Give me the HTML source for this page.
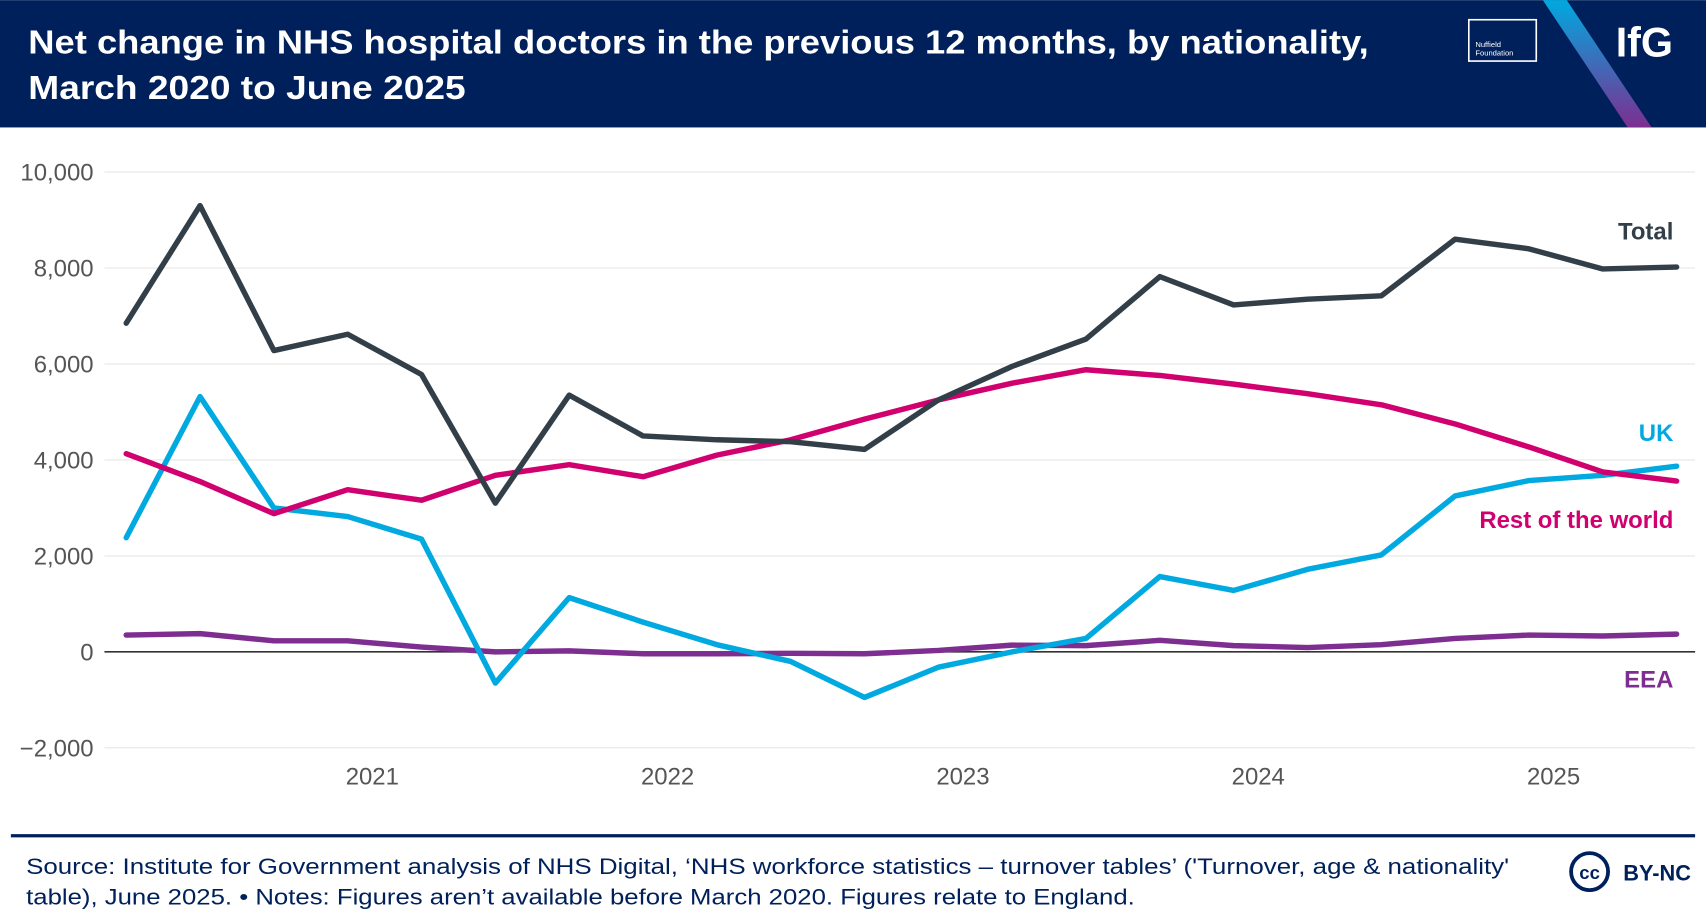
<!DOCTYPE html>
<html><head><meta charset="utf-8"><style>
html,body{margin:0;padding:0;background:#fff;}
svg{display:block;font-family:"Liberation Sans",sans-serif;}
</style></head><body>
<svg width="1706" height="924" viewBox="0 0 1568 849" xmlns="http://www.w3.org/2000/svg">
<rect x="0" y="0" width="1568" height="117" fill="#00205b"/>
<text x="26" y="49" fill="#fff" font-size="31" font-weight="bold" textLength="1232" lengthAdjust="spacingAndGlyphs">Net change in NHS hospital doctors in the previous 12 months, by nationality,</text>
<text x="26" y="91" fill="#fff" font-size="31" font-weight="bold" textLength="402" lengthAdjust="spacingAndGlyphs">March 2020 to June 2025</text>
<g>
<rect x="1350" y="18" width="62" height="38" fill="none" stroke="#fff" stroke-width="1.5"/>
<text x="1356" y="43" fill="#fff" font-size="7">Nuffield</text>
<text x="1356" y="51" fill="#fff" font-size="7">Foundation</text>
</g>
<defs><linearGradient id="g1" x1="0" y1="0" x2="0" y2="1"><stop offset="0" stop-color="#00a9e0"/><stop offset="1" stop-color="#7d2e90"/></linearGradient></defs>
<polygon points="1418,0 1440,0 1518,117 1496,117" fill="url(#g1)"/>
<text x="1485" y="52" fill="#fff" font-size="38" font-weight="bold">IfG</text>
<g id="plot"></g>
<line x1="10" y1="768" x2="1558" y2="768" stroke="#00205b" stroke-width="3"/>
<text x="24" y="803" fill="#00205b" font-size="20" textLength="1363" lengthAdjust="spacingAndGlyphs">Source: Institute for Government analysis of NHS Digital, ‘NHS workforce statistics – turnover tables’ ('Turnover, age &amp; nationality'</text>
<text x="24" y="831" fill="#00205b" font-size="20" textLength="1019" lengthAdjust="spacingAndGlyphs">table), June 2025. • Notes: Figures aren’t available before March 2020. Figures relate to England.</text>
<g>
<circle cx="1461" cy="801" r="17" fill="none" stroke="#00205b" stroke-width="3.5"/>
<text x="1461" y="808" text-anchor="middle" fill="#00205b" font-size="17" font-weight="bold">cc</text>
<text x="1492" y="809" fill="#00205b" font-size="20" font-weight="bold">BY-NC</text>
</g>
</svg>
<script>
const totalVals=[6850,9300,6280,6620,5780,3100,5350,4500,4420,4380,4220,5250,5950,6520,7820,7230,7350,7420,8600,8400,7980,8020];
const ukVals=[2380,5320,3000,2820,2350,-650,1130,620,150,-200,-950,-320,0,280,1570,1280,1720,2020,3250,3570,3680,3870];
const rowVals=[4130,3550,2880,3380,3160,3680,3900,3650,4100,4420,4850,5250,5600,5880,5760,5580,5380,5150,4750,4270,3750,3560];
const eeaVals=[350,380,230,230,100,0,20,-40,-40,-30,-40,30,140,130,240,130,90,150,280,350,330,370];
const yTicks=[-2000,0,2000,4000,6000,8000,10000];
const yearLabels=["2021","2022","2023","2024","2025"];
const NS="http://www.w3.org/2000/svg";
const g=document.getElementById('plot');
const x=i=>116+i*(1541-116)/21;
const y=v=>599-v*0.0441;
function mk(t,a){const e=document.createElementNS(NS,t);for(const k in a)e.setAttribute(k,a[k]);g.appendChild(e);return e;}
yTicks.forEach(v=>{
  const l=mk('line',{x1:96,x2:1558,y1:y(v),y2:y(v),stroke:v===0?'#333':'#e6e6e6','stroke-width':v===0?1.5:1});
  
  
  const t=mk('text',{x:86,y:y(v)+8,'text-anchor':'end',fill:'#555','font-size':22});
  t.textContent=(v<0?'−':'')+Math.abs(v).toLocaleString('en-US');
  
  
});
yearLabels.forEach((s,k)=>{
  const xi=x(3+4*k)+(x(1)-x(0))/3;
  const t=mk('text',{x:xi,y:721,'text-anchor':'middle',fill:'#555','font-size':22});
  t.textContent=s;
  
  
});
const series=[[eeaVals,'#7d2e90','eea-line'],[ukVals,'#00a9e0','uk-line'],[rowVals,'#d0006f','rest-of-world-line'],[totalVals,'#333f48','total-line']];
series.forEach(([vals,c,n])=>{
  const p=mk('polyline',{points:vals.map((v,i)=>x(i)+','+y(v)).join(' '),fill:'none',stroke:c,'stroke-width':5,'stroke-linejoin':'round','stroke-linecap':'round'});
  
  
});
[['Total',220,'#333f48','label-total'],['UK',405,'#00a9e0','label-uk'],['Rest of the world',485,'#d0006f','label-rest-of-world'],['EEA',632,'#7d2e90','label-eea']].forEach(([s,yy,c,n])=>{
  const t=mk('text',{x:1538,y:yy,'text-anchor':'end',fill:c,'font-size':22,'font-weight':'bold'});
  t.textContent=s;
  
  
});
</script>
</body></html>
